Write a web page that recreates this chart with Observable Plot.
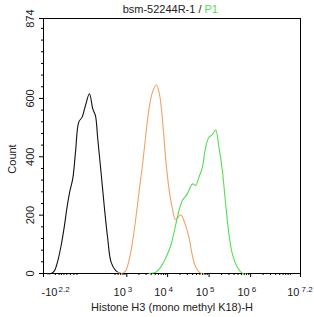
<!DOCTYPE html>
<html>
<head>
<meta charset="utf-8">
<script src="https://cdn.jsdelivr.net/npm/d3@7"></script>
<script src="https://cdn.jsdelivr.net/npm/@observablehq/plot@0.6"></script>
<style>
  html, body { margin: 0; padding: 0; background: #fff; }
  #chart svg { display: block; }
</style>
</head>
<body>
<div id="chart"></div>
<script>
// Black histogram (isotype / unstained control)
const blackX = [-130, -88, -65, -46, -31, -18, -10, -2, 6.5, 15, 27, 42, 60, 86, 113, 138, 163, 205, 258, 318, 391, 521, 702];
const blackY = [0, 0, 10, 45, 96, 164, 223, 279, 326, 416, 519, 536, 576, 616, 564, 541, 462, 347, 222, 119, 39, 10, 0];

// Orange histogram
const orangeX = [578, 776, 941, 1138, 1384, 1670, 2015, 2443, 2940, 3537, 4278, 5350, 6431, 7475, 8980, 10790, 13030, 15660, 20660, 27240, 32710, 39520, 47470, 62560, 75120];
const orangeY = [4, 0, 10, 45, 107, 187, 279, 370, 473, 564, 621, 647, 610, 530, 393, 290, 222, 184, 201, 164, 124, 62, 22, 1, 0];

// Green histogram (P1)
const greenX = [3537, 5143, 6800, 8980, 11860, 15660, 18790, 22710, 29940, 39520, 47470, 57000, 68770, 82620, 99180, 119750, 143800, 172600, 208350, 249840, 300300, 362400, 477500, 630200, 830700];
const greenY = [0, 4, 22, 53, 95, 167, 216, 250, 273, 307, 302, 330, 364, 433, 467, 476, 492, 433, 353, 239, 136, 68, 22, 1, 0];

// Axis ticks and labels
const xDomain = [-Math.pow(10, 2.2), Math.pow(10, 7.2)];
const xMajor = [-Math.pow(10, 2.2), 1e3, 1e4, 1e5, 1e6, Math.pow(10, 7.2)];
const xBase = ["-10", "10", "10", "10", "10", "10"];
const xExp = ["2.2", "3", "4", "5", "6", "7.2"];
const xMinor = [-60, -40, -30, -20, -10, 0, 10, 20, 500, 600, 700, 800, 900,
  2e3, 3e3, 4e3, 5e3, 6e3, 7e3, 8e3, 9e3,
  2e4, 3e4, 4e4, 5e4, 6e4, 7e4, 8e4, 9e4,
  2e5, 3e5, 4e5, 5e5, 6e5, 7e5, 8e5, 9e5,
  2e6, 3e6, 4e6, 5e6, 6e6, 7e6, 8e6, 9e6];
const yMajor = [0, 200, 400, 600, 874];
const yMinor = [40, 80, 120, 160, 240, 280, 320, 360, 440, 480, 520, 560, 640, 680, 720, 760, 800, 840];

const titleMain = "bsm-52244R-1 /";
const titleGate = "P1";
const xTitle = "Histone H3 (mono methyl K18)-H";
const yTitle = "Count";

const series = [
  {name: "black", xs: blackX, ys: blackY},
  {name: "orange", xs: orangeX, ys: orangeY},
  {name: "green", xs: greenX, ys: greenY}
];
const data = series.flatMap(s => s.xs.map((x, i) => ({series: s.name, x, y: s.ys[i]})));
const colors = {black: "#111111", orange: "#EDA468", green: "#55DD55"};

const font = "Liberation Sans, Arial, sans-serif";
const W = 314, H = 317, ML = 43, MR = 14, MT = 18, MB = 44;

const baseLabels = xMajor.map((v, i) => ({v, base: xBase[i], exp: xExp[i], first: i === 0}));

const chart = Plot.plot({
  width: W,
  height: H,
  marginLeft: ML,
  marginRight: MR,
  marginTop: MT,
  marginBottom: MB,
  style: {fontFamily: font, fontSize: "11px", color: "#222", background: "#fff"},
  x: {type: "symlog", constant: 46, domain: xDomain, axis: null},
  y: {domain: [0, 874], axis: null},
  marks: [
    Plot.frame({stroke: "#000", strokeWidth: 1}),
    Plot.line(data, {
      x: "x", y: "y", z: "series",
      stroke: d => colors[d.series],
      curve: "catmull-rom",
      strokeWidth: 1.1
    }),
    // x ticks
    Plot.axisX({ticks: xMajor, tickSize: 4, tickFormat: () => "", label: null, stroke: "#000"}),
    Plot.axisX({ticks: xMinor, tickSize: 2, tickFormat: () => "", label: null, stroke: "#000"}),
    // x tick labels: base and exponent
    Plot.text(baseLabels.filter(d => !d.first), {
      x: "v", text: "base", frameAnchor: "bottom", lineAnchor: "bottom",
      textAnchor: "end", dx: -1, dy: 22, fontSize: 11, fill: "#222"
    }),
    Plot.text(baseLabels.filter(d => !d.first), {
      x: "v", text: "exp", frameAnchor: "bottom", lineAnchor: "bottom",
      textAnchor: "start", dx: 1, dy: 18, fontSize: 8, fill: "#222"
    }),
    Plot.text(baseLabels.filter(d => d.first), {
      x: "v", text: "base", frameAnchor: "bottom", lineAnchor: "bottom",
      textAnchor: "start", dx: -2, dy: 22, fontSize: 11, fill: "#222"
    }),
    Plot.text(baseLabels.filter(d => d.first), {
      x: "v", text: "exp", frameAnchor: "bottom", lineAnchor: "bottom",
      textAnchor: "start", dx: 15, dy: 18, fontSize: 8, fill: "#222"
    }),
    // y ticks
    Plot.axisY({ticks: yMajor, tickSize: 4, tickFormat: () => "", label: null, stroke: "#000"}),
    Plot.axisY({ticks: yMinor, tickSize: 2, tickFormat: () => "", label: null, stroke: "#000"}),
    Plot.text(yMajor, {
      y: d => d, text: d => String(d), frameAnchor: "left", dx: -13,
      rotate: -90, textAnchor: "middle", lineAnchor: "middle", fontSize: 11, fill: "#222"
    }),
    // axis titles
    Plot.text([xTitle], {
      text: d => d, frameAnchor: "bottom", lineAnchor: "bottom", dy: 37, fontSize: 11, fill: "#222"
    }),
    Plot.text([yTitle], {
      text: d => d, frameAnchor: "left", dx: -31, dy: 13, rotate: -90,
      textAnchor: "middle", lineAnchor: "middle", fontSize: 11, fill: "#222"
    }),
    // title
    Plot.text([titleMain], {
      text: d => d, frameAnchor: "top-left", dx: 158, dy: -6,
      textAnchor: "end", lineAnchor: "bottom", fontSize: 11, fill: "#222"
    }),
    Plot.text([titleGate], {
      text: d => d, frameAnchor: "top-left", dx: 161, dy: -6,
      textAnchor: "start", lineAnchor: "bottom", fontSize: 11, fill: "#55DD55"
    })
  ]
});

document.getElementById("chart").appendChild(chart);
</script>
</body>
</html>
